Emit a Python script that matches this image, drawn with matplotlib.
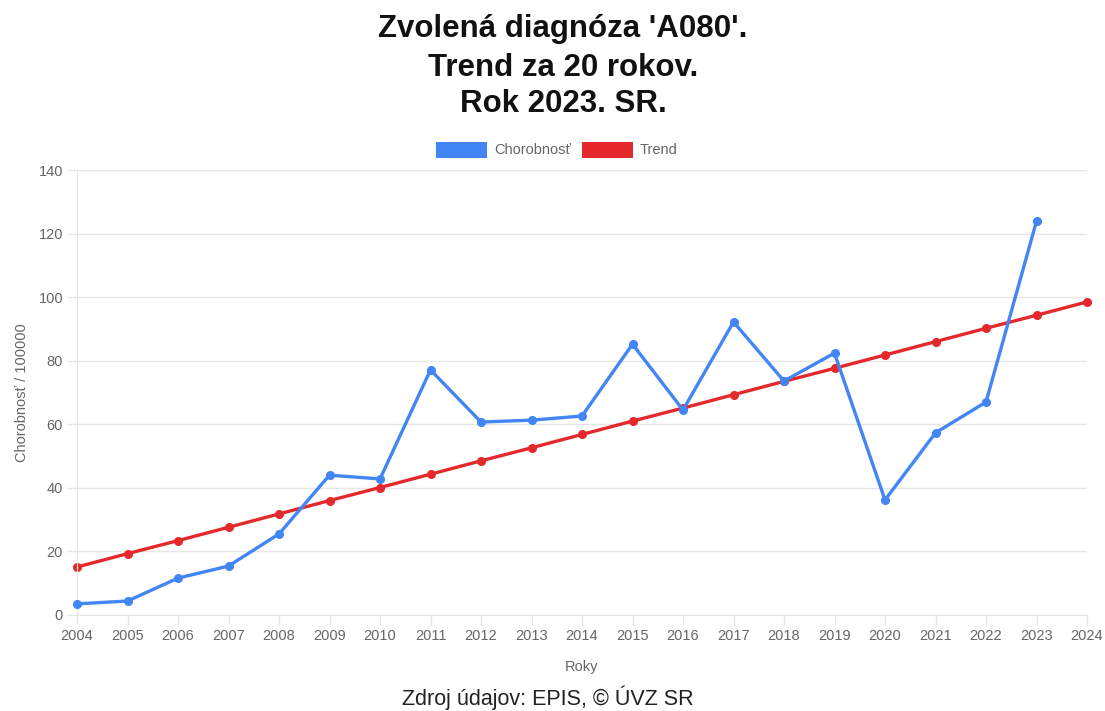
import matplotlib.pyplot as plt
from matplotlib.patches import Rectangle

plt.rcParams['font.family'] = ['Liberation Sans', 'DejaVu Sans']

# Rok a chorobnosť na 100000 obyvateľov
roky = list(range(2004, 2025))
chorobnost = [3.5, 4.4, 11.6, 15.4, 25.5, 44.0, 42.8, 77.1, 60.7, 61.3,
              62.6, 85.2, 64.5, 92.2, 73.6, 82.4, 36.2, 57.3, 67.0, 123.9]
trend = [15.1, 19.3, 23.4, 27.6, 31.8, 36.0, 40.1, 44.3, 48.5, 52.6, 56.8,
         61.0, 65.1, 69.3, 73.5, 77.6, 81.8, 86.0, 90.2, 94.3, 98.5]
y_ticks = [0, 20, 40, 60, 80, 100, 120, 140]

BLUE = '#4285f4'
RED = '#e5282c'
GRAY = '#666666'
FS = 10.5

fig = plt.figure(figsize=(11.05, 7.11), dpi=100)
ax = fig.add_axes([77 / 1105, 1 - 615 / 711, 1010 / 1105, 445 / 711])

ax.plot(roky[:len(chorobnost)], chorobnost, color=BLUE, lw=2.4,
        marker='o', ms=5.5, zorder=3, clip_on=False)
ax.plot(roky, trend, color=RED, lw=2.4, marker='o', ms=5.5, zorder=2,
        clip_on=False)

ax.set_xlim(2004, 2024)
ax.set_ylim(0, 140)
ax.set_xticks(roky)
ax.set_xticklabels([str(r) for r in roky])
ax.set_yticks(y_ticks)
ax.grid(axis='y', color='#e6e6e6', lw=1)
ax.set_axisbelow(True)
for side in ['top', 'right']:
    ax.spines[side].set_visible(False)
ax.spines['left'].set_color('#e6e6e6')
ax.spines['bottom'].set_color('#e6e6e6')
ax.tick_params(axis='both', colors='#e6e6e6', labelcolor=GRAY,
               labelsize=FS, length=7, width=1)
ax.tick_params(axis='x', pad=3)
ax.tick_params(axis='y', pad=3)

ax.set_xlabel('Roky', fontsize=FS, color=GRAY, labelpad=12)
ax.set_ylabel('Chorobnosť / 100000', fontsize=FS, color=GRAY, labelpad=7)

for txt, ypx in [("Zvolená diagnóza 'A080'.", 29),
                 ('Trend za 20 rokov.', 68),
                 ('Rok 2023. SR.', 104)]:
    fig.text(563 / 1105, 1 - ypx / 711, txt, ha='center', va='center',
             fontsize=22.5, fontweight='bold', color='#111111')

# legenda ako v Chart.js
ly = 1 - 158 / 711
lh = 16 / 711
lw = 51 / 1105
fig.patches.append(Rectangle((436 / 1105, ly), lw, lh, transform=fig.transFigure,
                             facecolor=BLUE, edgecolor='none'))
fig.text(494 / 1105, ly + lh / 2, 'Chorobnosť', fontsize=FS, color=GRAY,
         va='center', ha='left')
fig.patches.append(Rectangle((582 / 1105, ly), lw, lh, transform=fig.transFigure,
                             facecolor=RED, edgecolor='none'))
fig.text(640 / 1105, ly + lh / 2, 'Trend', fontsize=FS, color=GRAY,
         va='center', ha='left')

fig.text(548 / 1105, 1 - 698 / 711, 'Zdroj údajov: EPIS, © ÚVZ SR', ha='center',
         va='center', fontsize=15.5, color='#222222')

fig.savefig('out.png', dpi=100)
